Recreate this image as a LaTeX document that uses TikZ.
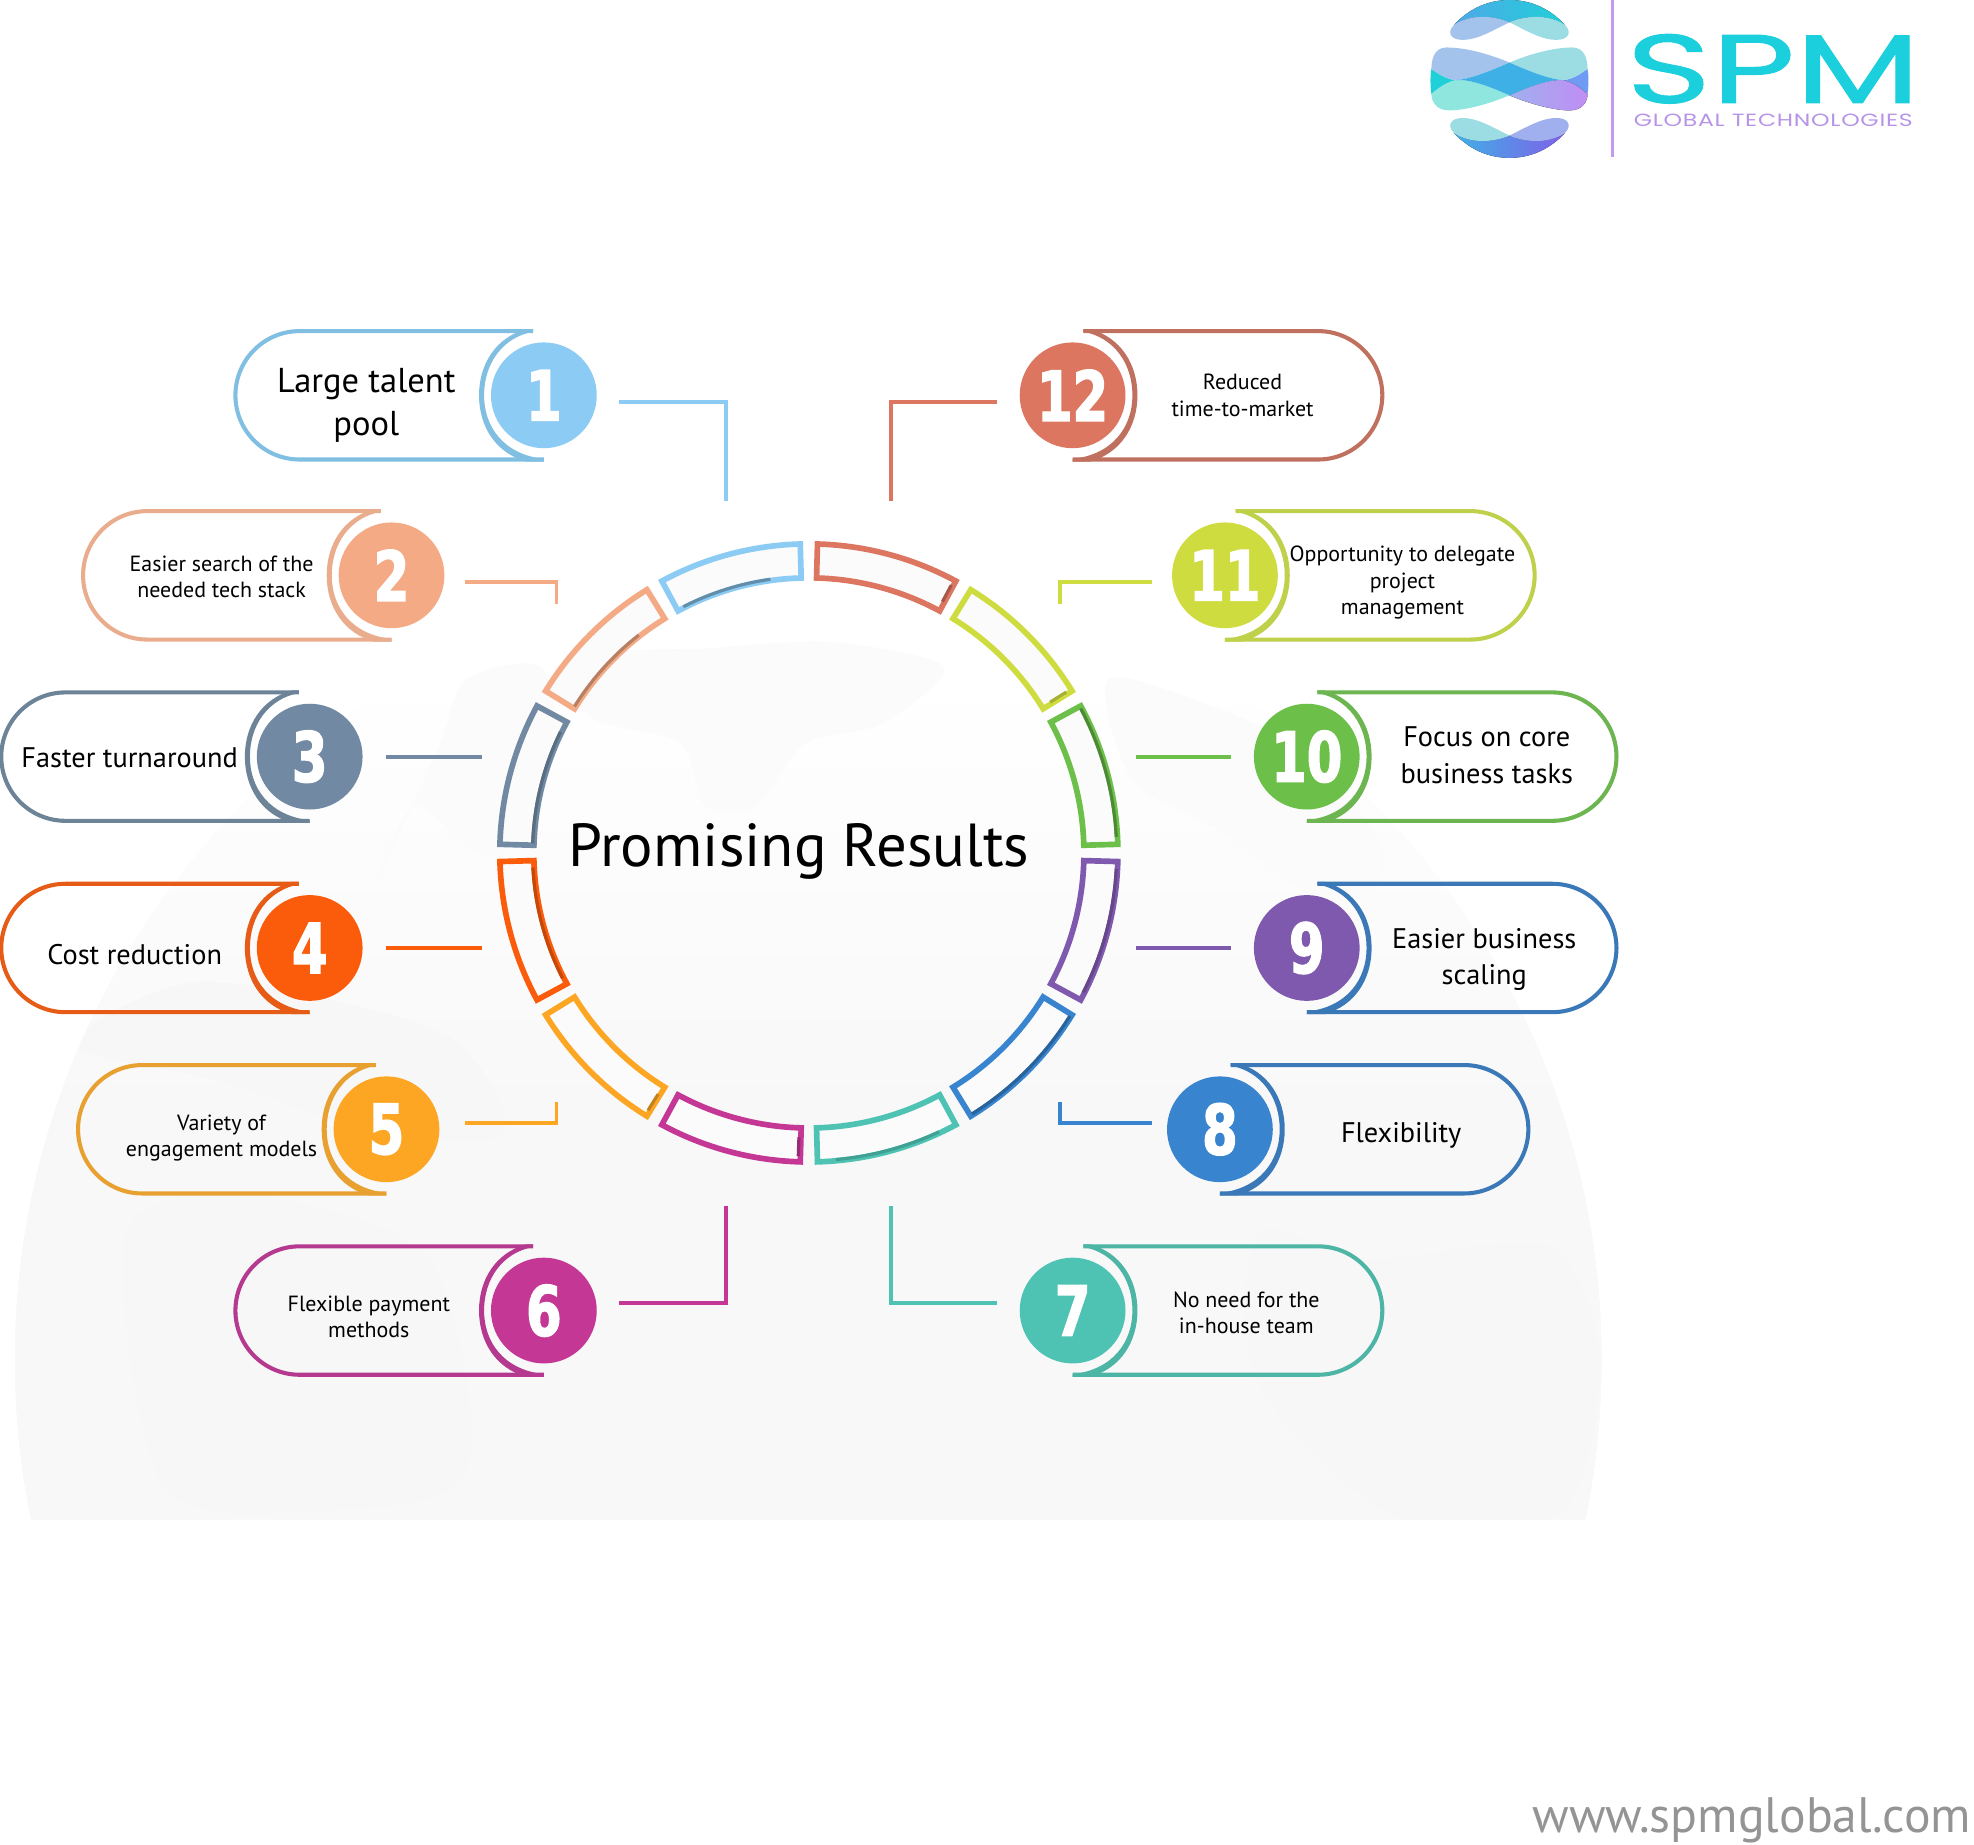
\documentclass[tikz,border=0pt]{standalone}
\usepackage{fontspec}
\setmainfont{PT Sans}
\newfontfamily\numfont[UprightFont=* Bold,FakeStretch=.74,FakeBold=2]{DejaVu Sans}
\newfontfamily\logofont[FakeStretch=1.49,FakeBold=1]{Poppins}
\newfontfamily\subfont[FakeStretch=1.33,LetterSpace=4]{Poppins}
\newcommand\txtbig{\fontsize{19.5}{24.2}\selectfont}
\newcommand\txtmid{\fontsize{16}{20.6}\selectfont}
\newcommand\txtsmall{\fontsize{12.4}{14.9}\selectfont}
\definecolor{pc1}{HTML}{8CCBF3}\definecolor{pl1}{HTML}{80BEE2}
\definecolor{pc2}{HTML}{F4AB85}\definecolor{pl2}{HTML}{E9AC8D}
\definecolor{pc3}{HTML}{7189A3}\definecolor{pl3}{HTML}{6D8398}
\definecolor{pc4}{HTML}{FB5C0B}\definecolor{pl4}{HTML}{E65C17}
\definecolor{pc5}{HTML}{FCA624}\definecolor{pl5}{HTML}{E8A030}
\definecolor{pc6}{HTML}{C43795}\definecolor{pl6}{HTML}{B53A8F}
\definecolor{pc7}{HTML}{4EC3B3}\definecolor{pl7}{HTML}{4DB5A5}
\definecolor{pc8}{HTML}{3884CF}\definecolor{pl8}{HTML}{3A78B8}
\definecolor{pc9}{HTML}{7F59AD}\definecolor{pl9}{HTML}{3A78B8}
\definecolor{pc10}{HTML}{6CC04A}\definecolor{pl10}{HTML}{6CB550}
\definecolor{pc11}{HTML}{CFDC3F}\definecolor{pl11}{HTML}{BFD04A}
\definecolor{pc12}{HTML}{DC7661}\definecolor{pl12}{HTML}{C0705F}
\definecolor{spmteal}{HTML}{1CCFDC}
\definecolor{spmlila}{HTML}{B794E8}
\definecolor{spmbar}{HTML}{C39BEC}
\definecolor{lgA}{HTML}{4FA8E8}\definecolor{lgB}{HTML}{1FD0D8}
\definecolor{lgC}{HTML}{A3C2EC}\definecolor{lgD}{HTML}{9BDDE3}
\definecolor{lgE}{HTML}{8FE6DF}\definecolor{lgF}{HTML}{A0B0EE}
\definecolor{lgG}{HTML}{C08DF5}\definecolor{lgH}{HTML}{3FB0E6}
\definecolor{lgI}{HTML}{6F9BF2}\definecolor{lgJ}{HTML}{7F60E8}
\tikzset{
    pillline/.style={line width=2.3pt},
    numcirc/.style={circle,inner sep=0pt,minimum size=2.1cm,text=white,font=\numfont\fontsize{39}{39}\selectfont},
    link/.style={line width=2.2pt},
    segm/.style={line width=3.2pt,fill=white!97!gray,line join=miter},
    segshade/.style={line width=1.8pt},
    pilltext/.style={align=center,inner sep=0pt,text=black},
    landtop/.style={fill=black!1.7,draw=none},
    land/.style={fill=black!3.3,draw=none}
}
\begin{document}
\begin{tikzpicture}[x=0.025cm,y=-0.025cm]
    \useasboundingbox (0,0) rectangle (1568,1464.8);
    % globe
    \begin{scope}
    \clip (642,1080) circle[radius=630];
    \foreach \ytop/\g in {560/0.4,610/0.8,660/1.2,710/1.6,760/2,810/2.3,860/2.6}{
    \fill[black!\g] (0,\ytop) rectangle (1568,1207);}
    \clip (0,0) rectangle (1568,1207);
    \fill[landtop] plot[smooth cycle] coordinates {(450,522)(560,515)(660,510)(750,530)(700,575)(640,590)(600,640)(560,640)(540,590)(470,570)};
    \fill[landtop] plot[smooth cycle] coordinates {(370,540)(430,530)(440,600)(390,680)(330,640)(300,700)(350,590)};
    \fill[landtop] plot[smooth cycle] coordinates {(880,540)(960,560)(1040,600)(1100,680)(1060,720)(970,660)(900,620)};
    \fill[land] plot[smooth cycle] coordinates {(60,830)(160,780)(350,820)(400,900)(300,900)(180,860)};
    \fill[land] plot[smooth cycle] coordinates {(100,980)(200,950)(340,1000)(370,1170)(250,1200)(130,1180)};
    \fill[land] plot[smooth cycle] coordinates {(1000,980)(1090,1000)(1230,990)(1270,1080)(1240,1200)(1110,1205)(1000,1100)};
    \end{scope}
    % ring
    \begin{scope}[shift={(642.5,677.5)}]
    \foreach \a/\col in {240/1,210/2,180/3,150/4,120/5,90/6,60/7,30/8,0/9,-30/10,-60/11,-90/12}{
    \draw[segm,draw=pc\col] (\a+1.6:245.5) arc[start angle=\a+1.6,end angle=\a+28.4,radius=245.5] -- (\a+28.4:218.5) arc[start angle=\a+28.4,end angle=\a+1.6,radius=218.5] -- cycle;}
    \foreach \a/\b/\r/\col in {243/262/219.5/pc1!70!black,212/232/219.5/pc2!75!black,182/206/219.5/pc3!80!black,153/177/219.5/pc4!78!black,65/85/244.5/pc7!82!black,32/58/244.5/pc8!75!black,3/27/244.5/pc9!80!black,-28/-3/244.5/pc10!72!black}{
    \draw[segshade,draw=\col] (\a:\r) arc[start angle=\a,end angle=\b,radius=\r];}
    \foreach \a/\col in {122/pc5!78!black,92/pc6!78!black,-32/pc11!80!black,-62/pc12!75!black}{
    \draw[segshade,draw=\col] (\a:226) -- (\a:241);}
    \end{scope}
    \node[inner sep=0pt,font=\fontsize{34.3}{34.3}\selectfont] (title) at (634.5,676) {Promising Results};
    % pills
    \foreach \n/\cx/\cy/\s/\far/\tx/\ty/\ts/\txt in {
      1/432/314/1/245/291/322/\txtbig/{Large talent\\pool},
      2/311/457/1/245/176/458/\txtsmall/{Easier search of the\\needed tech stack},
      3/246/601/1/245/103/602/\txtmid/{Faster turnaround},
      4/246/753/1/245/107/758/\txtmid/{Cost reduction},
      5/307/897/1/245/176/904/\txtsmall/{Variety of\\engagement models},
      6/432/1041/1/245/293/1046/\txtsmall/{Flexible payment\\methods},
      7/852/1041/-1/246/990/1043/\txtsmall/{No need for the\\in-house team},
      8/969/897/-1/245/1113/902/\txtmid/{Flexibility},
      9/1038/753/-1/246/1179/762/\txtmid/{Easier business\\scaling},
      10/1038/601/-1/246/1181/600/\txtmid/{Focus on core\\business tasks},
      11/973/457/-1/246/1114/463/\txtsmall/{Opportunity to delegate\\project\\management},
      12/852/314/-1/246/987/314/\txtsmall/{Reduced\\time-to-market}}{
    \begin{scope}[shift={(\cx,\cy)},xscale=\s]
    \draw[pillline,draw=pl\n] (-8.5,-51) -- (51-\far,-51) arc[start angle=-90,end angle=-270,radius=51] -- (0,51);
    \fill[pl\n] (-8.5,-52.6) -- (-8.5,-50.5) .. controls (-33,-46) and (-47.5,-25) .. (-47.5,0) .. controls (-47.5,25) and (-32,47) .. (0,50.5) -- (0,52.6) -- (-14,52.6) .. controls (-38,46) and (-51.5,25) .. (-51.5,0) .. controls (-51.5,-25) and (-38,-46) .. (-14,-52.6) -- cycle;
    \end{scope}
    \node[numcirc,fill=pc\n] (num\n) at (\cx,\cy) {\n};
    \node[pilltext,font=\ts] (txt\n) at (\tx,\ty) {\txt};
    }
    % links
    \foreach \n/\xa/\ya/\xb/\yb in {1/492/319/577/398,2/369/462/442/480,3/307/601/383/601,4/307/753/383/753,5/369/892/442/875,6/492/1035/577/958,7/792/1035/708/958,8/915/892/842/875,9/978/753/902/753,10/978/601/902/601,11/915/462/842/480,12/792/319/708/398}{
    \coordinate (ks\n) at (\xa,\ya);
    \coordinate (ke\n) at (\xb,\yb);
    \draw[link,draw=pc\n] (ks\n) -| (ke\n);
    }
    % logo
    \begin{scope}[shift={(1199,62.7)}]
    \fill[left color=lgA,right color=lgB] (-44,-43) .. controls (-30,-58) and (-14,-62.7) .. (0,-62.7) .. controls (14,-62.7) and (30,-58) .. (44,-43) .. controls (30,-52) and (12,-50) .. (0,-45) .. controls (-12,-50) and (-30,-52) .. cycle;
    \fill[lgC] (0,-45) .. controls (-14,-38) and (-26,-31) .. (-37,-31) .. controls (-47,-31) and (-50,-37) .. (-44,-43) .. controls (-30,-52) and (-12,-50) .. (0,-45) -- cycle;
    \fill[lgD] (0,-45) .. controls (14,-38) and (26,-31) .. (37,-31) .. controls (47,-31) and (50,-37) .. (44,-43) .. controls (30,-52) and (12,-50) .. (0,-45) -- cycle;
    \fill[lgB] (-62,-8) .. controls (-55,-3) and (-50,0) .. (-43,1) .. controls (-50,3) and (-55,6) .. (-62,12) .. controls (-63,5) and (-63,-3) .. (-62,-8) -- cycle;
    \fill[lgI] (62,-8) .. controls (55,-3) and (50,0) .. (43,1) .. controls (50,3) and (55,6) .. (62,12) .. controls (63,5) and (63,-3) .. (62,-8) -- cycle;
    \fill[lgC] (0,-13) .. controls (-14,-19) and (-34,-25) .. (-50,-25) .. controls (-60,-25) and (-62,-15) .. (-62,-8) .. controls (-55,-3) and (-50,0) .. (-43,1) .. controls (-30,0) and (-14,-7) .. (0,-13) -- cycle;
    \fill[lgD] (0,-13) .. controls (14,-19) and (34,-25) .. (50,-25) .. controls (60,-25) and (62,-15) .. (62,-8) .. controls (55,-3) and (50,0) .. (43,1) .. controls (30,0) and (14,-7) .. (0,-13) -- cycle;
    \fill[lgE] (0,13) .. controls (-14,19) and (-34,25) .. (-48,25) .. controls (-58,25) and (-62,18) .. (-62,12) .. controls (-55,6) and (-50,3) .. (-43,1) .. controls (-30,0) and (-14,7) .. (0,13) -- cycle;
    \fill[left color=lgF,right color=lgG] (0,13) .. controls (14,19) and (34,25) .. (48,25) .. controls (58,25) and (62,18) .. (62,12) .. controls (55,6) and (50,3) .. (43,1) .. controls (30,0) and (14,7) .. (0,13) -- cycle;
    \fill[lgH] (-43,1) .. controls (-30,0) and (-14,-7) .. (0,-13) .. controls (14,-7) and (30,0) .. (43,1) .. controls (30,0) and (14,7) .. (0,13) .. controls (-14,7) and (-30,0) .. (-43,1) -- cycle;
    \fill[left color=lgH,right color=lgJ] (-44,43) .. controls (-30,58) and (-14,62.7) .. (0,62.7) .. controls (14,62.7) and (30,58) .. (44,43) .. controls (30,52) and (12,50) .. (0,45) .. controls (-12,50) and (-30,52) .. cycle;
    \fill[lgD] (0,45) .. controls (-14,38) and (-26,31) .. (-37,31) .. controls (-47,31) and (-50,37) .. (-44,43) .. controls (-30,52) and (-12,50) .. (0,45) -- cycle;
    \fill[lgF] (0,45) .. controls (14,38) and (26,31) .. (37,31) .. controls (47,31) and (50,37) .. (44,43) .. controls (30,52) and (12,50) .. (0,45) -- cycle;
    \end{scope}
    \draw[line width=2pt,draw=spmbar] (1281,0) -- (1281,125);
    \node[inner sep=0pt,anchor=south,text depth=0pt,text height=39pt,text=spmteal,font=\logofont\fontsize{55}{55}\selectfont] (spm) at (1408.5,82) {SPM};
    \node[inner sep=0pt,anchor=south,text depth=0pt,text height=7pt,text=spmlila,font=\subfont\fontsize{10}{10}\selectfont] (global) at (1408.5,101) {GLOBAL TECHNOLOGIES};
    \node[inner sep=0pt,anchor=east,text=black!42,font=\fontsize{28.1}{28.1}\selectfont] (web) at (1566,1446) {www.spmglobal.com};
\end{tikzpicture}
\end{document}
